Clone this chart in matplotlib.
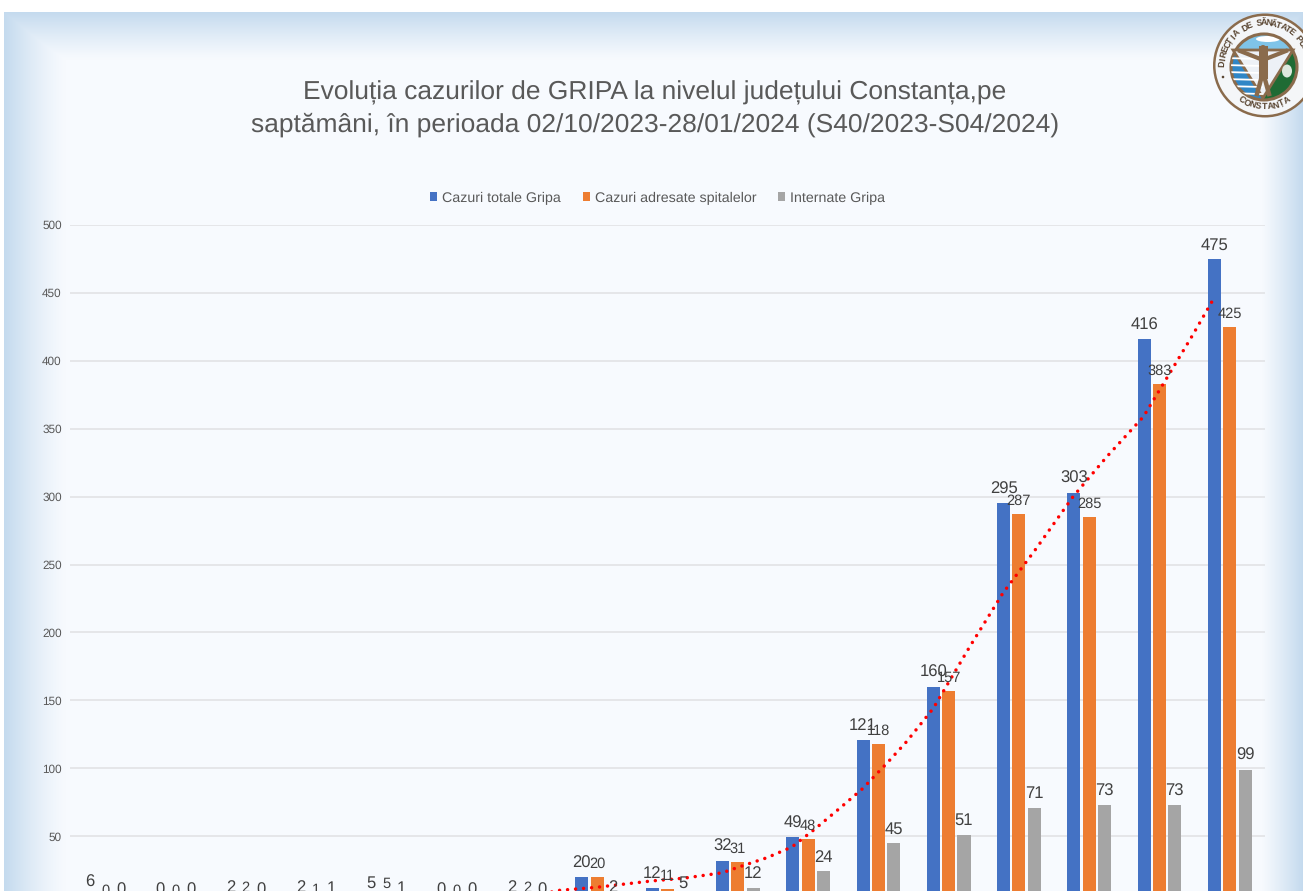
import numpy as np
import matplotlib
matplotlib.use("Agg")
import matplotlib.pyplot as plt
from matplotlib.patches import Circle, Polygon, Rectangle, Ellipse

plt.rcParams['font.family'] = ['Liberation Sans', 'DejaVu Sans']
plt.rcParams['text.hinting'] = 'none'

weeks = ["S40","S41","S42","S43","S44","S45","S46","S47","S48","S49","S50","S51","S52","S01","S02","S03","S04"]
total = [6,0,2,2,5,0,2,20,12,32,49,121,160,295,303,416,475]
adresate = [0,0,2,1,5,0,2,20,11,31,48,118,157,287,285,383,425]
internate = [0,0,0,1,1,0,0,2,5,12,24,45,51,71,73,73,99]
trend_x = [6.2,6.45,6.99,7.78,8.23,8.78,9.03,9.41,9.77,10.08,10.45,10.77,11.12,11.40,11.78,
           12.30,12.77,13.23,13.77,14.25,14.77,15.20,15.46,15.75]
trend_vals = [7,10,12.3,17,19,23,27.5,34,42,54.5,70.5,84.7,103.6,119.5,144,
              189.5,228.8,260.7,300,329.4,358.8,395.6,418,444]
yticks = [50,100,150,200,250,300,350,400,450,500]
names = ["Cazuri totale Gripa","Cazuri adresate spitalelor","Internate Gripa"]
colors = ["#4472C4","#ED7D31","#A5A5A5"]
title_lines = ["Evoluția cazurilor de GRIPA la nivelul județului Constanța,pe",
               "saptămâni, în perioada 02/10/2023-28/01/2024 (S40/2023-S04/2024)"]

W, H = 1303, 891
fig = plt.figure(figsize=(W/100, H/100), dpi=100, facecolor="white")

# background frame
bg = fig.add_axes([0,0,1,1], zorder=0); bg.axis("off")
xx, yy = np.meshgrid(np.arange(W)+.5, np.arange(H)+.5)
t = np.maximum.reduce([np.clip((66-xx)/62,0,1)**1.3,
                       np.clip((60-yy)/48,0,1)**1.2,
                       np.clip((xx-1262)/41,0,1)**1.1])
c0 = np.array([0xF7,0xFA,0xFE])/255; c1 = np.array([0xC4,0xDA,0xEE])/255
img = c0[None,None,:]*(1-t[...,None]) + c1[None,None,:]*t[...,None]
img[(xx<4)|(yy<12)] = 1
bg.imshow(img, extent=(0,W,H,0), aspect="auto", interpolation="nearest")

# chart
ax = fig.add_axes([70/W, (H-904)/H, 1195/W, 679/H], zorder=1)
ax.patch.set_alpha(0)
x = np.arange(len(weeks))
w, step = 0.185, 0.218
series = [total, adresate, internate]
sizes = [12, 10.5, 12]
for k,(vals,col,nm) in enumerate(zip(series,colors,names)):
    pos = x+(k-1)*step
    ax.bar(pos, vals, w, color=col, label=nm, zorder=2)
    for p,v in zip(pos,vals):
        ax.annotate(str(v),(p,v),xytext=(0,4.3),textcoords="offset points",ha="center",va="bottom",
                    fontsize=sizes[k],color="#404040",zorder=4,annotation_clip=False)
ax.plot(trend_x, trend_vals, color="#FF0000", lw=2.5,
        linestyle=(0,(0.01,2.3)), dash_capstyle="round", zorder=3)
ax.set_xlim(-0.5,16.5); ax.set_ylim(0,500)
ax.set_yticks(yticks); ax.set_xticks([])
ax.tick_params(axis="y",length=0,pad=6,labelsize=8.5,labelcolor="#595959")
ax.yaxis.grid(True,color="#E0E1E3",lw=1.1,zorder=1); ax.set_axisbelow(True)
for s in ax.spines.values(): s.set_visible(False)
ax.legend(loc="center",bbox_to_anchor=(657.5/W,(H-198)/H),bbox_transform=fig.transFigure,ncol=3,frameon=False,
          fontsize=10.3,labelcolor="#595959",handlelength=0.5,handleheight=0.5,handletextpad=0.35,columnspacing=1.5)

# overlay in pixel coordinates
ov = fig.add_axes([0,0,1,1], zorder=2); ov.axis("off"); ov.patch.set_alpha(0)
ov.set_xlim(0,W); ov.set_ylim(H,0)
ov.text(655,93,title_lines[0],ha="center",va="center",fontsize=19,color="#595959")
ov.text(655,125,title_lines[1],ha="center",va="center",fontsize=19,color="#595959")

# logo
cx, cy = 1265, 65.5
brown = "#8A6B4C"
ov.add_patch(Circle((cx,cy),52,fc=brown,ec="none"))
ov.add_patch(Circle((cx,cy),49.5,fc="#F4F6F8",ec="none"))
inner = Circle((cx-1,67),33,fc="#7FC4E8",ec="none"); ov.add_patch(inner)
blue = Rectangle((1225,50),40,52,fc="#2F86C6",ec="none"); ov.add_patch(blue); blue.set_clip_path(inner)
for yy0 in [58,65,72,79,86,93]:
    l, = ov.plot([1225,1262],[yy0,yy0+1],color="white",lw=1.3); l.set_clip_path(inner)
green = Rectangle((1263,50),40,52,fc="#1F6B34",ec="none"); ov.add_patch(green); green.set_clip_path(inner)
cloud = Ellipse((1268,39),24,6,fc="white",ec="none"); ov.add_patch(cloud); cloud.set_clip_path(inner)
ov.add_patch(Circle((cx-1,67),33,fc="none",ec=brown,lw=2.2))
ov.add_patch(Polygon([(1233,50),(1293,50),(1263,98)],closed=True,fc="#EDF1F6",ec=brown,lw=2))
ov.plot([1240,1263,1286],[51,60,51],color=brown,lw=3)
ov.plot([1263,1263],[50,74],color=brown,lw=6.5)
ov.plot([1257,1263,1269],[94,72,94],color=brown,lw=3.2)
ov.add_patch(Circle((1263,48),3,fc=brown,ec="none"))
ov.add_patch(Ellipse((1287,71),10,13,fc="#DDE8DD",ec="none"))
def arc_text(s, radius, a0, a1, top=True):
    for ch,a in zip(s,np.linspace(a0,a1,len(s))):
        r = np.deg2rad(a)
        px, py = cx+radius*np.cos(r), cy-radius*np.sin(r)
        rot = a-90 if top else a+90
        ov.text(px,py,ch,ha="center",va="center",rotation=rot,rotation_mode="anchor",
                fontsize=6.4,fontweight="bold",color="#5A4632")
arc_text("DIRECȚIA DE SĂNĂTATE PUBLICĂ",42.5,178,-2)
arc_text("CONSTANȚA",41.5,236,302,top=False)
ov.add_patch(Circle((1223,77),1.3,fc="#5A4632",ec="none"))

fig.savefig("out.png",dpi=100)
